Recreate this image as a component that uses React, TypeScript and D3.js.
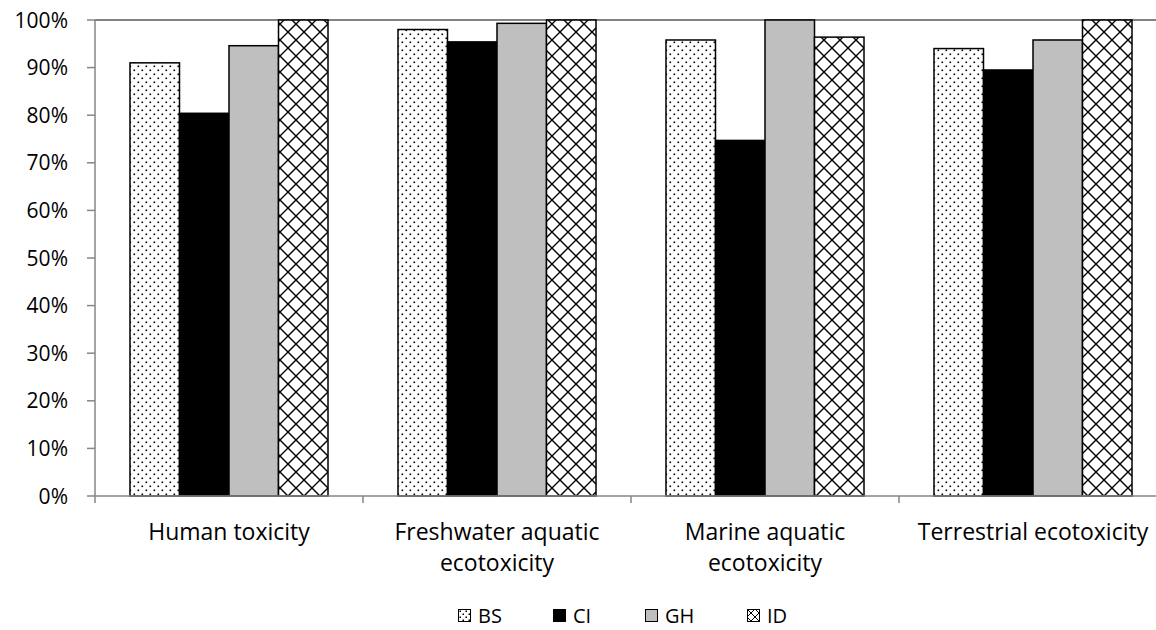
import React from "react";
import * as d3 from "d3";

const categories = [
  "Human toxicity",
  "Freshwater aquatic ecotoxicity",
  "Marine aquatic ecotoxicity",
  "Terrestrial ecotoxicity",
];
const series = ["BS", "CI", "GH", "ID"];
const BS = [91.0, 98.0, 95.8, 94.0];
const CI = [80.4, 95.4, 74.7, 89.5];
const GH = [94.6, 99.3, 100, 95.8];
const ID = [100, 100, 96.4, 100];
const yTicks = [0, 10, 20, 30, 40, 50, 60, 70, 80, 90, 100];

const values: Record<string, number[]> = { BS, CI, GH, ID };

const W = 1156;
const H = 630;
const left = 95;
const top = 20;
const bottom = 496;
const band = 268;
const font = "'Open Sans', Lato, sans-serif";

const fills: Record<string, string> = {
  BS: "url(#dots)",
  CI: "#000000",
  GH: "#bfbfbf",
  ID: "url(#cross)",
};

function wrap(label: string): string[] {
  if (label.length <= 24) return [label];
  const i = label.lastIndexOf(" ");
  return [label.slice(0, i), label.slice(i + 1)];
}

export default function App() {
  const x0 = d3
    .scaleBand<string>()
    .domain(categories)
    .range([left, left + band * categories.length])
    .paddingInner(0)
    .paddingOuter(0);
  const x1 = d3
    .scaleBand<string>()
    .domain(series)
    .range([0, x0.bandwidth()])
    .paddingInner(0)
    .paddingOuter(0.707);
  const y = d3.scaleLinear().domain([0, 100]).range([bottom, top]);

  const legendX = [458, 553, 645, 747];

  return (
    <svg
      width={W}
      height={H}
      style={{ position: "absolute", left: 0, top: 0, background: "#fff" }}
    >
      <defs>
        <pattern id="dots" width={8} height={8} patternUnits="userSpaceOnUse">
          <rect width={8} height={8} fill="#fff" />
          <rect x={1.5} y={1.5} width={1.6} height={1.6} fill="#000" />
          <rect x={5.5} y={5.5} width={1.6} height={1.6} fill="#000" />
        </pattern>
        <pattern id="cross" width={16} height={16} patternUnits="userSpaceOnUse">
          <rect width={16} height={16} fill="#fff" />
          <path d="M0,0L16,16M16,0L0,16" stroke="#000" strokeWidth={1.4} />
        </pattern>
        <pattern id="dotsL" width={6} height={6} patternUnits="userSpaceOnUse">
          <rect width={6} height={6} fill="#fff" />
          <rect x={1.5} y={1.5} width={1.5} height={1.5} fill="#000" />
          <rect x={4.5} y={4.5} width={1.5} height={1.5} fill="#000" />
        </pattern>
        <pattern id="crossL" width={8} height={8} patternUnits="userSpaceOnUse">
          <rect width={8} height={8} fill="#fff" />
          <path d="M0,0L8,8M8,0L0,8" stroke="#000" strokeWidth={1} />
        </pattern>
      </defs>

      {/* top border line */}
      <line x1={left} x2={W} y1={top} y2={top} stroke="#595959" strokeWidth={1.5} />

      {/* bars */}
      {categories.map((c, ci) => (
        <g key={c}>
          {series.map((s) => {
            const v = values[s][ci];
            const bx = (x0(c) as number) + (x1(s) as number);
            return (
              <rect
                key={s}
                x={bx}
                y={y(v)}
                width={x1.bandwidth()}
                height={bottom - y(v)}
                fill={fills[s]}
                stroke="#000"
                strokeWidth={1.5}
              />
            );
          })}
        </g>
      ))}

      {/* y axis */}
      <line x1={left} x2={left} y1={top} y2={bottom} stroke="#868686" strokeWidth={1.5} />
      {yTicks.map((t) => (
        <g key={t}>
          <line x1={left - 8} x2={left} y1={y(t)} y2={y(t)} stroke="#868686" strokeWidth={1.5} />
          <text
            x={68}
            y={y(t)}
            dy="0.36em"
            textAnchor="end"
            fontFamily={font}
            fontSize={21}
            fill="#000"
          >
            {t}%
          </text>
        </g>
      ))}

      {/* x axis */}
      <line x1={left} x2={W} y1={bottom} y2={bottom} stroke="#868686" strokeWidth={1.5} />
      {[...categories.map((c) => x0(c) as number), left + band * categories.length].map((tx, i) => (
        <line key={i} x1={tx} x2={tx} y1={bottom} y2={bottom + 7} stroke="#868686" strokeWidth={1.5} />
      ))}
      {categories.map((c) => {
        const cx = (x0(c) as number) + x0.bandwidth() / 2;
        return (
          <text key={c} x={cx} y={540} textAnchor="middle" fontFamily={font} fontSize={23} fill="#000">
            {wrap(c).map((ln, i) => (
              <tspan key={i} x={cx} dy={i === 0 ? 0 : 31}>
                {ln}
              </tspan>
            ))}
          </text>
        );
      })}

      {/* legend */}
      {series.map((s, i) => (
        <g key={s} transform={`translate(${legendX[i]},609)`}>
          <rect
            x={0.5}
            y={0.5}
            width={12}
            height={12}
            fill={s === "BS" ? "url(#dotsL)" : s === "ID" ? "url(#crossL)" : fills[s]}
            stroke="#000"
            strokeWidth={1}
          />
          <text x={20} y={6.5} dy="0.36em" fontFamily={font} fontSize={20} fill="#000">
            {s}
          </text>
        </g>
      ))}
    </svg>
  );
}
